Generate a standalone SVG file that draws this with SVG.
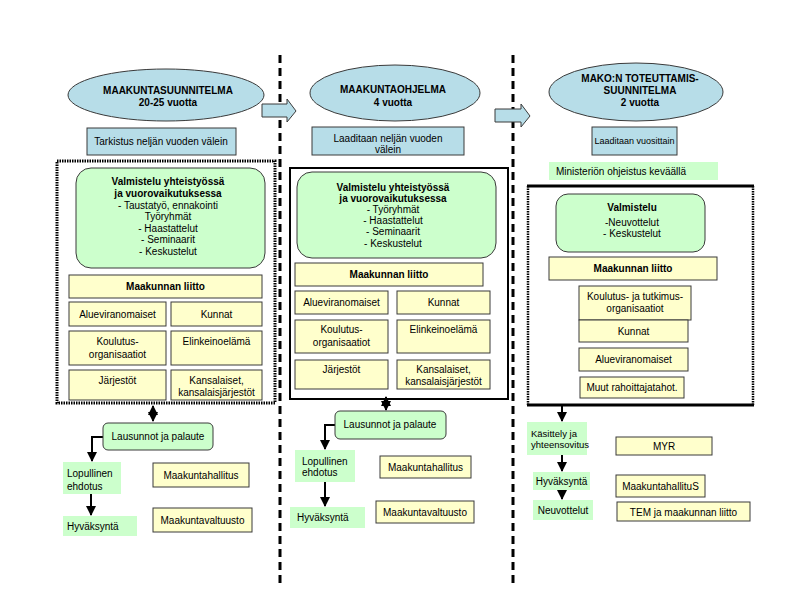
<svg xmlns="http://www.w3.org/2000/svg" width="800" height="600" viewBox="0 0 800 600">
<defs>
<style>
text{font-family:"Liberation Sans",Arial,sans-serif;font-size:10px;fill:#000}
.c{text-anchor:middle}
.b{font-weight:bold}
.sm{font-size:9px}
.s9{font-size:9.5px}
.blue{fill:#b7dde8;stroke:#3a3a3a;stroke-width:1}
.green{fill:#ccffcc;stroke:#3a3a3a;stroke-width:1}
.gn{fill:#ccffcc;stroke:none}
.yel{fill:#ffffcc;stroke:#3a3a3a;stroke-width:1}
.sep{stroke:#000;stroke-width:3;stroke-dasharray:8,5;fill:none}
.ln{stroke:#000;stroke-width:2;fill:none}
.blk{fill:#b7dde8;stroke:#3a3a3a;stroke-width:1}
</style>
<marker id="ah" markerUnits="userSpaceOnUse" markerWidth="10" markerHeight="10" refX="9" refY="5" orient="auto">
<path d="M0,0 L10,5 L0,10 Z" fill="#000"/>
</marker>
<marker id="as" markerUnits="userSpaceOnUse" markerWidth="10" markerHeight="10" refX="9" refY="5" orient="auto-start-reverse">
<path d="M0,0 L10,5 L0,10 Z" fill="#000"/>
</marker>
</defs>
<rect width="800" height="600" fill="#fff"/>

<g id="connectors">
<line class="sep" x1="280" y1="55" x2="280" y2="588"/>
<line class="sep" x1="513" y1="55" x2="513" y2="588"/>
<path class="blk" d="M262,104 H287 V99 L296,111 L287,122 V117 H262 Z"/>
<path class="blk" d="M495,109 H521 V104 L530,116 L521,127 V122 H495 Z"/>
<line class="ln" x1="153" y1="406" x2="153" y2="421" marker-start="url(#as)" marker-end="url(#ah)"/>
<path class="ln" d="M103,437 H92 V461" marker-end="url(#ah)"/>
<line class="ln" x1="91" y1="494" x2="91" y2="515" marker-end="url(#ah)"/>
<line class="ln" x1="386" y1="397" x2="386" y2="410" marker-start="url(#as)" marker-end="url(#ah)"/>
<path class="ln" d="M335,425 H325 V449" marker-end="url(#ah)"/>
<line class="ln" x1="325" y1="482" x2="325" y2="506" marker-end="url(#ah)"/>
<line class="ln" x1="562" y1="406" x2="562" y2="421" marker-end="url(#ah)"/>
<line class="ln" x1="562" y1="455" x2="562" y2="471" marker-end="url(#ah)"/>
<line class="ln" x1="562" y1="490" x2="562" y2="499" marker-end="url(#ah)"/>
</g>

<!-- Left column -->
<g id="ellipse1"><ellipse class="blue" cx="166" cy="95" rx="98" ry="26"/>
<text class="c b" x="168" y="93.5">MAAKUNTASUUNNITELMA</text><text class="c b" x="168" y="105.5">20-25 vuotta</text></g>
<g id="tarkistus"><rect class="blue" x="87" y="128" width="149" height="27"/><text class="c" x="161" y="145">Tarkistus neljän vuoden välein</text></g>
<g id="container1"><rect x="57" y="161" width="218" height="242" fill="none" stroke="#000" stroke-width="3" stroke-dasharray="1.5,1"/></g>
<g id="valmistelu1"><rect class="green" x="76" y="168" width="189" height="100" rx="15"/>
<text class="c b" x="168" y="184.5">Valmistelu yhteistyössä</text>
<text class="c b" x="168" y="196.5">ja vuorovaikutuksessa</text>
<text class="c" x="168" y="208.5">- Taustatyö, ennakointi</text>
<text class="c" x="168" y="220">Työryhmät</text>
<text class="c" x="168" y="231.5">- Haastattelut</text>
<text class="c" x="168" y="243">- Seminaarit</text>
<text class="c" x="168" y="254.5">- Keskustelut</text></g>
<g id="liitto1"><rect class="yel" x="69" y="275" width="193" height="23"/><text class="c b" x="165.5" y="290">Maakunnan liitto</text></g>
<g id="alue1"><rect class="yel" x="69" y="302" width="97" height="24"/><text class="c" x="117.5" y="317.5">Alueviranomaiset</text></g>
<g id="kunnat1"><rect class="yel" x="171" y="302" width="91" height="24"/><text class="c" x="216.5" y="317.5">Kunnat</text></g>
<g id="koulutus1"><rect class="yel" x="69" y="331" width="97" height="34"/><text class="c" x="117.5" y="345">Koulutus-</text><text class="c" x="117.5" y="357.5">organisaatiot</text></g>
<g id="elinkeino1"><rect class="yel" x="171" y="331" width="91" height="34"/><text class="c" x="216.5" y="345">Elinkeinoelämä</text></g>
<g id="jarjestot1"><rect class="yel" x="69" y="370" width="97" height="30"/><text class="c" x="117.5" y="384">Järjestöt</text></g>
<g id="kansalaiset1"><rect class="yel" x="171" y="370" width="91" height="30"/><text class="c" x="216.5" y="384">Kansalaiset,</text><text class="c" x="216.5" y="396">kansalaisjärjestöt</text></g>
<g id="lausunnot1"><rect class="green" x="103" y="423" width="110" height="27" rx="5"/><text class="c" x="158" y="440">Lausunnot ja palaute</text></g>
<g id="lopullinen1"><rect class="gn" x="63" y="462" width="58" height="32"/><text x="67" y="477">Lopullinen</text><text x="67" y="489.5">ehdotus</text></g>
<g id="hyvaksynta1"><rect class="gn" x="63" y="516" width="74" height="20"/><text x="67" y="529.5">Hyväksyntä</text></g>
<g id="hallitus1"><rect class="yel" x="153" y="463" width="96" height="24"/><text class="c" x="201" y="478.5">Maakuntahallitus</text></g>
<g id="valtuusto1"><rect class="yel" x="153" y="508" width="99" height="24"/><text class="c" x="202.5" y="523.5">Maakuntavaltuusto</text></g>

<!-- Middle column -->
<g id="ellipse2"><ellipse class="blue" cx="395" cy="93" rx="85" ry="28"/>
<text class="c b" x="393" y="92.5">MAAKUNTAOHJELMA</text><text class="c b" x="393" y="105.5">4 vuotta</text></g>
<g id="laaditaan2"><rect class="blue" x="312" y="127" width="152" height="28"/><text class="c" x="388" y="141.5">Laaditaan neljän vuoden</text><text class="c" x="388" y="152.5">välein</text></g>
<g id="container2"><rect x="290" y="168" width="218" height="231" fill="none" stroke="#000" stroke-width="2"/></g>
<g id="valmistelu2"><rect class="green" x="297" y="172" width="199" height="86" rx="15"/>
<text class="c b" x="393" y="191">Valmistelu yhteistyössä</text>
<text class="c b" x="393" y="202">ja vuorovaikutuksessa</text>
<text class="c" x="393" y="212.5">- Työryhmät</text>
<text class="c" x="393" y="223.5">- Haastattelut</text>
<text class="c" x="393" y="235">- Seminaarit</text>
<text class="c" x="393" y="246.5">- Keskustelut</text></g>
<g id="liitto2"><rect class="yel" x="295" y="263" width="188" height="23"/><text class="c b" x="389" y="278">Maakunnan liitto</text></g>
<g id="alue2"><rect class="yel" x="295" y="291" width="93" height="23"/><text class="c" x="341.5" y="306">Alueviranomaiset</text></g>
<g id="kunnat2"><rect class="yel" x="397" y="291" width="93" height="23"/><text class="c" x="443.5" y="306">Kunnat</text></g>
<g id="koulutus2"><rect class="yel" x="295" y="320" width="93" height="33"/><text class="c" x="341.5" y="333">Koulutus-</text><text class="c" x="341.5" y="345.5">organisaatiot</text></g>
<g id="elinkeino2"><rect class="yel" x="397" y="320" width="93" height="33"/><text class="c" x="443.5" y="333">Elinkeinoelämä</text></g>
<g id="jarjestot2"><rect class="yel" x="295" y="360" width="93" height="29"/><text class="c" x="341.5" y="373">Järjestöt</text></g>
<g id="kansalaiset2"><rect class="yel" x="397" y="360" width="93" height="29"/><text class="c" x="443.5" y="373">Kansalaiset,</text><text class="c" x="443.5" y="385">kansalaisjärjestöt</text></g>
<g id="lausunnot2"><rect class="green" x="335" y="411" width="111" height="28" rx="5"/><text class="c" x="390" y="428">Lausunnot ja palaute</text></g>
<g id="lopullinen2"><rect class="gn" x="295" y="450" width="60" height="32"/><text x="302" y="464.5">Lopullinen</text><text x="302" y="476">ehdotus</text></g>
<g id="hyvaksynta2"><rect class="gn" x="290" y="507" width="75" height="21"/><text x="297" y="521">Hyväksyntä</text></g>
<g id="hallitus2"><rect class="yel" x="380" y="456" width="91" height="22"/><text class="c" x="425.5" y="470.5">Maakuntahallitus</text></g>
<g id="valtuusto2"><rect class="yel" x="376" y="501" width="98" height="22"/><text class="c" x="425" y="515.5">Maakuntavaltuusto</text></g>

<!-- Right column -->
<g id="ellipse3"><ellipse class="blue" cx="636" cy="92" rx="87" ry="29"/>
<text class="c b" x="640" y="82">MAKO:N TOTEUTTAMIS-</text><text class="c b" x="640" y="94">SUUNNITELMA</text><text class="c b" x="640" y="105.5">2 vuotta</text></g>
<g id="laaditaan3"><rect class="blue" x="592" y="127" width="85" height="28"/><text class="c sm" x="634.5" y="143.5">Laaditaan vuosittain</text></g>
<g id="ministerio"><rect class="gn" x="549" y="162" width="169" height="18"/><text x="556" y="174.5">Ministeriön ohjeistus keväällä</text></g>
<g id="container3">
<line x1="527" y1="186" x2="754" y2="186" stroke="#000" stroke-width="3"/>
<line x1="527" y1="405" x2="754" y2="405" stroke="#000" stroke-width="3"/>
<line x1="528" y1="186" x2="528" y2="405" stroke="#000" stroke-width="2.5" stroke-dasharray="1.5,1"/>
<line x1="753" y1="186" x2="753" y2="405" stroke="#000" stroke-width="2.5" stroke-dasharray="1.5,1"/>
</g>
<g id="valmistelu3"><rect class="green" x="556" y="194" width="149" height="58" rx="12"/>
<text class="c b" x="632" y="210.5">Valmistelu</text>
<text class="c" x="632" y="225.5">-Neuvottelut</text>
<text class="c" x="632" y="237">- Keskustelut</text></g>
<g id="liitto3"><rect class="yel" x="549" y="257" width="168" height="23"/><text class="c b" x="633" y="272">Maakunnan liitto</text></g>
<g id="koulutus3"><rect class="yel" x="579" y="286" width="112" height="34"/><text class="c" x="635" y="299.5">Koulutus- ja tutkimus-</text><text class="c" x="635" y="311.5">organisaatiot</text></g>
<g id="kunnat3"><rect class="yel" x="579" y="320" width="109" height="22"/><text class="c" x="633.5" y="334.5">Kunnat</text></g>
<g id="alue3"><rect class="yel" x="579" y="348" width="109" height="23"/><text class="c" x="633.5" y="363">Alueviranomaiset</text></g>
<g id="muut3"><rect class="yel" x="580" y="377" width="104" height="21"/><text class="c" x="632" y="391">Muut rahoittajatahot.</text></g>
<g id="kasittely"><rect class="gn" x="527" y="422" width="60" height="33"/><text class="s9" x="531" y="436.5">Käsittely ja</text><text class="s9" x="531" y="448">yhteensovitus</text></g>
<g id="hyvaksynta3"><rect class="gn" x="533" y="472" width="57" height="18"/><text class="c" x="561.5" y="484.5">Hyväksyntä</text></g>
<g id="neuvottelut3"><rect class="gn" x="533" y="500" width="60" height="20"/><text class="c" x="563" y="513.5">Neuvottelut</text></g>
<g id="myr"><rect class="yel" x="616" y="437" width="96" height="18"/><text class="c" x="664" y="450">MYR</text></g>
<g id="hallitus3"><rect class="yel" x="616" y="475" width="89" height="22"/><text class="c" x="660.5" y="489.5">MaakuntahallituS</text></g>
<g id="tem"><rect class="yel" x="617" y="502" width="133" height="19"/><text class="c" x="683.5" y="515.5">TEM ja maakunnan liitto</text></g>
</svg>
